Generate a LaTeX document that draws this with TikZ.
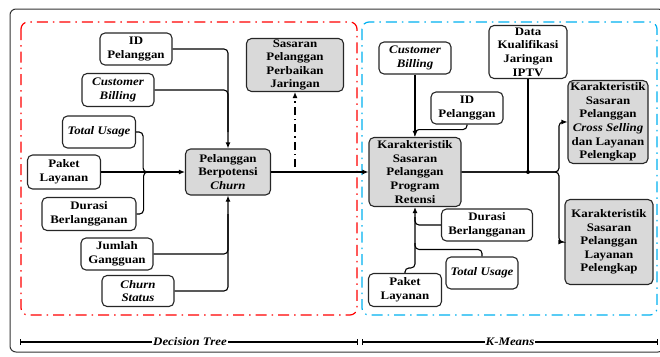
\documentclass[tikz,border=0pt]{standalone}
\usepackage{fontspec}
\setmainfont{Liberation Serif}[FakeStretch=1.12]
\usetikzlibrary{arrows.meta,calc}
\definecolor{boxgray}{RGB}{217,217,217}
\definecolor{dtred}{RGB}{255,0,0}
\definecolor{kmblue}{RGB}{0,176,240}
\begin{document}
\begin{tikzpicture}[x=1pt,y=-1pt,
  txt/.style={font=\fontsize{11.5}{13.6}\selectfont\bfseries},
  box/.style={txt, draw=black!85, line width=1.1pt, rounded corners=5pt, fill=white, align=center, inner sep=1pt},
  gbox/.style={box, fill=boxgray},
  conn/.style={line width=1.1pt, rounded corners=4pt},
  arr/.style={-{Latex[length=6pt,width=5pt]}},
  ddash/.style={line width=1.1pt, dash pattern=on 8pt off 4pt on 1.5pt off 4pt},
  frame/.style={line width=1.2pt, rounded corners=7pt, dash pattern=on 11pt off 5pt on 1.5pt off 5pt},
  dim/.style={line width=1.1pt},
  dimlab/.style={txt, fill=white, inner sep=1pt, font=\fontsize{11.5}{13.6}\selectfont\bfseries\itshape}]
\useasboundingbox (0,0) rectangle (660,356);
% outer frame
\draw[black!80, line width=1pt, rounded corners=6pt] (10,9) rectangle (664,352);
% method frames
\draw[frame, dtred] (21,22) rectangle (357,315);
\draw[frame, kmblue] (362,22) rectangle (657,315);

% ---- Decision Tree side ----
\node[box, minimum width=72pt, minimum height=32pt] (idL) at (136,49) {ID\\Pelanggan};
\node[box, minimum width=72pt, minimum height=33pt] (cbL) at (118,90) {\itshape Customer\\\itshape Billing};
\node[box, minimum width=73pt, minimum height=32pt] (tuL) at (99,132) {\itshape Total Usage};
\node[box, minimum width=73pt, minimum height=34pt] (plL) at (64,172) {Paket\\Layanan};
\node[box, minimum width=94pt, minimum height=33pt] (durL) at (89,214) {Durasi\\Berlangganan};
\node[box, minimum width=72pt, minimum height=32pt] (jgL) at (117,254) {Jumlah\\Gangguan};
\node[box, minimum width=72pt, minimum height=31pt] (csL) at (138,291) {\itshape Churn\\\itshape Status};
\node[gbox, minimum width=85pt, minimum height=46pt] (pbc) at (228,172) {Pelanggan\\Berpotensi\\\itshape Churn};
\node[gbox, minimum width=97pt, minimum height=51pt] (sas) at (295,65) {Sasaran\\Pelanggan\\Perbaikan\\Jaringan};

\coordinate (hop) at (150,172);
\draw[conn,arr] (idL.east) -| (pbc.north);
\draw[conn] (cbL.east) -| (pbc.north |- tuL.east);
\draw[conn] (tuL.east) -- ++(7,0) |- (hop);
\draw[conn] (durL.east) -- ++(7,0) |- (hop);
\draw[conn,arr] (plL.east) -- (pbc.west);
\draw[conn] (jgL.east) -| (pbc.south |- durL.east);
\draw[conn,arr] (csL.east) -| (pbc.south);
\draw[ddash,arr] ($(sas.south |- pbc.east)+(0,-5)$) -- (sas.south);

% ---- K-Means side ----
\node[box, minimum width=72pt, minimum height=32pt] (cbR) at (415,58) {\itshape Customer\\\itshape Billing};
\node[box, minimum width=72pt, minimum height=32pt] (idR) at (467,108) {ID\\Pelanggan};
\node[box, minimum width=78pt, minimum height=53pt] (dk) at (528,52) {Data\\Kualifikasi\\Jaringan\\IPTV};
\node[gbox, minimum width=92pt, minimum height=69pt] (kpr) at (415,172) {Karakteristik\\Sasaran\\Pelanggan\\Program\\Retensi};
\node[gbox, minimum width=80pt, minimum height=83pt] (cs) at (608,122) {Karakteristik\\Sasaran\\Pelanggan\\\itshape Cross Selling\\dan Layanan\\Pelengkap};
\node[gbox, minimum width=88pt, minimum height=85pt] (lp) at (609,242) {Karakteristik\\Sasaran\\Pelanggan\\Layanan\\Pelengkap};
\node[box, minimum width=91pt, minimum height=32pt] (durR) at (487,225) {Durasi\\Berlangganan};
\node[box, minimum width=72pt, minimum height=32pt] (tuR) at (482,273) {\itshape Total Usage};
\node[box, minimum width=73pt, minimum height=33pt] (pkR) at (405,290) {Paket\\Layanan};

\draw[conn,arr] (pbc.east) -- (kpr.west);
\draw[conn,arr] (cbR.south) -- (kpr.north);
\draw[conn] (idR.south) -- ++(0,5) -| ($(kpr.north)+(0,-4)$);
\draw[conn,arr] (pkR.north) -- ++(0,-5) -| (kpr.south);
\draw[conn] (durR.west) -| ($(kpr.south)+(0,10)$);
\draw[conn] (tuR.north) -- ++(0,-7) -| ($(kpr.south)+(0,36)$);

\coordinate (br) at (559,172);
\draw[conn,arr] (kpr.east) -| (br |- cs.west) -- (cs.west);
\draw[conn,arr] (kpr.east) -| (br |- lp.west) -- (lp.west);
\draw[conn] (dk.south) -- (dk.south |- kpr.east);
\fill (dk.south |- kpr.east) circle (2pt);

% ---- bottom dimension lines ----
\coordinate (d1a) at (20,342);
\coordinate (d1b) at (357,342);
\coordinate (d2a) at (362,342);
\coordinate (d2b) at (657,342);
\draw[dim] (d1a) -- (d1b);
\draw[dim] (d2a) -- (d2b);
\foreach \p in {d1a,d1b,d2a,d2b} \draw[line width=1pt] ($(\p)+(0,-3)$) -- ($(\p)+(0,3)$);
\node[dimlab] (dtl) at (190,342) {Decision Tree};
\node[dimlab] (kml) at (510,342) {K-Means};
\end{tikzpicture}
\end{document}
